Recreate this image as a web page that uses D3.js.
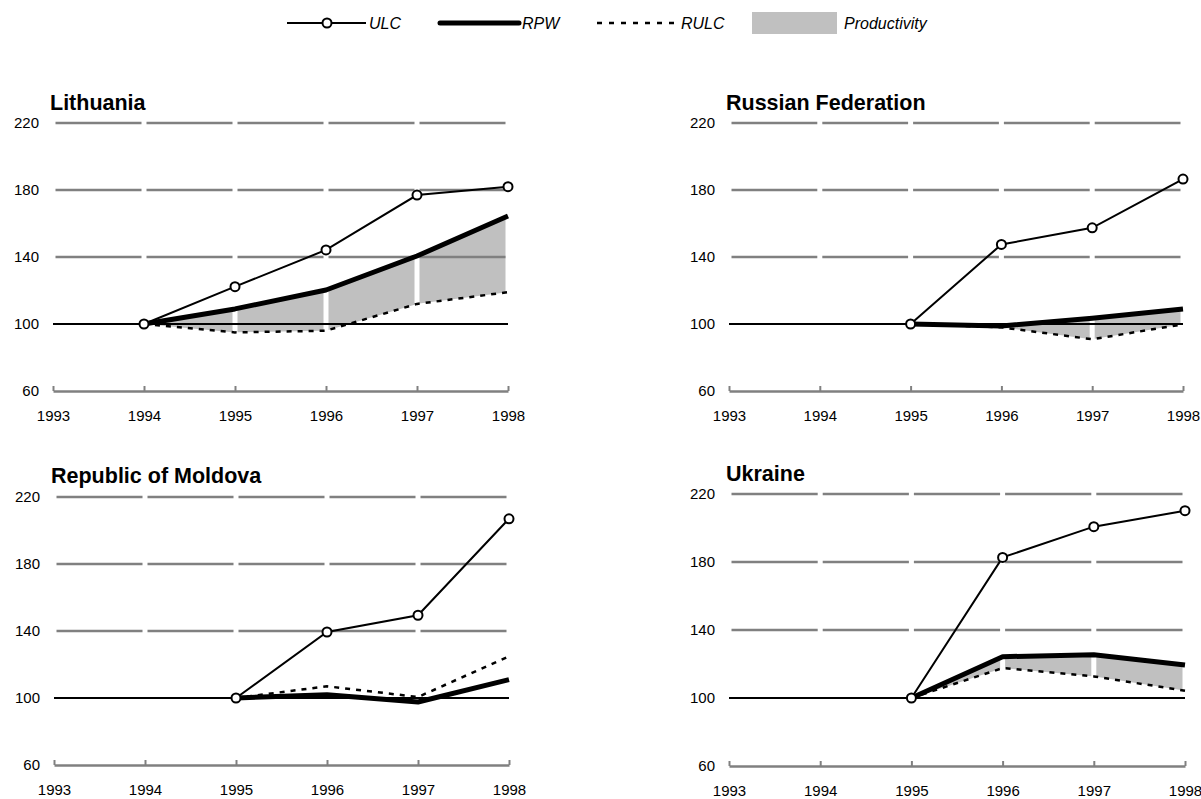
<!DOCTYPE html>
<html>
<head>
<meta charset="utf-8">
<script src="https://cdn.jsdelivr.net/npm/d3@7"></script>
<style>
  body { margin: 0; background: #fff; }
  svg { display: block; font-family: "Liberation Sans", Arial, sans-serif; }
</style>
</head>
<body>
<svg width="1201" height="799"></svg>
<script>
// years on the x axis and tick values on the y axis
const years = [1993, 1994, 1995, 1996, 1997, 1998];
const yTicks = [60, 100, 140, 180, 220];
const gridValues = [140, 180, 220];

const countries = ["Lithuania", "Russian Federation", "Republic of Moldova", "Ukraine"];

// index values (null = no data)
const ulcLithuania = [null, 100, 122.3, 144.2, 177, 182];
const rpwLithuania = [null, 100, 109, 120.3, 140.6, 164.5];
const rulcLithuania = [null, 100, 95, 96, 112, 119];

const ulcRussia = [null, null, 100, 147.5, 157.4, 186.5];
const rpwRussia = [null, null, 100, 98.8, 103.4, 108.9];
const rulcRussia = [null, null, 100, 98, 90.9, 99.8];

const ulcMoldova = [null, null, 100, 139.4, 149.4, 207];
const rpwMoldova = [null, null, 100, 102, 97.6, 111];
const rulcMoldova = [null, null, 100, 107, 100.6, 124.9];

const ulcUkraine = [null, null, 100, 182.7, 200.8, 210.2];
const rpwUkraine = [null, null, 100, 124.3, 125.5, 119.4];
const rulcUkraine = [null, null, 100, 117.6, 112.7, 104.3];

const legendLabels = ["ULC", "RPW", "RULC", "Productivity"];

// panel boxes (pixel frame of each small chart)
const panels = [
  {name: countries[0], ulc: ulcLithuania, rpw: rpwLithuania, rulc: rulcLithuania, x0: 53, x1: 508, yTop: 123, yBot: 391, titleY: 110},
  {name: countries[1], ulc: ulcRussia, rpw: rpwRussia, rulc: rulcRussia, x0: 729, x1: 1183, yTop: 123, yBot: 391, titleY: 110},
  {name: countries[2], ulc: ulcMoldova, rpw: rpwMoldova, rulc: rulcMoldova, x0: 54, x1: 509, yTop: 497, yBot: 765, titleY: 483},
  {name: countries[3], ulc: ulcUkraine, rpw: rpwUkraine, rulc: rulcUkraine, x0: 729, x1: 1185, yTop: 494, yBot: 766, titleY: 481}
];

const svg = d3.select("svg");
const grey = "#808080";
const fillGrey = "#c0c0c0";
const gap = 2.5;

panels.forEach(p => {
  const x = d3.scaleLinear().domain([1993, 1998]).range([p.x0, p.x1]);
  const y = d3.scaleLinear().domain([60, 220]).range([p.yBot, p.yTop]);
  const g = svg.append("g");

  const rows = years.map((yr, i) => ({year: yr, ulc: p.ulc[i], rpw: p.rpw[i], rulc: p.rulc[i]}));

  // productivity fill, one piece per year interval with a white gap at each year
  const pieces = d3.pairs(rows).filter(([a, b]) => a.rpw != null && b.rpw != null);
  const area = d3.area()
    .x(d => x(d.year))
    .y0(d => y(d.rulc))
    .y1(d => y(Math.max(d.rpw, d.rulc)));
  pieces.forEach(([a, b]) => {
    const t0 = gap / (x(b.year) - x(a.year));
    const lerp = t => ({
      year: a.year + (b.year - a.year) * t,
      rpw: a.rpw + (b.rpw - a.rpw) * t,
      rulc: a.rulc + (b.rulc - a.rulc) * t
    });
    g.append("path")
      .datum([lerp(t0), lerp(1 - t0)])
      .attr("fill", fillGrey)
      .attr("d", area);
  });

  // dashed-looking gridlines: a segment per year interval
  gridValues.forEach(v => {
    g.append("g").selectAll("line")
      .data(d3.pairs(years))
      .join("line")
      .attr("x1", d => x(d[0]) + gap)
      .attr("x2", d => x(d[1]) - gap)
      .attr("y1", y(v)).attr("y2", y(v))
      .attr("stroke", grey)
      .attr("stroke-width", 2.5);
  });

  // bottom axis
  const xAxis = g.append("g")
    .attr("transform", `translate(0,${p.yBot})`)
    .call(d3.axisBottom(x).tickValues(years).tickFormat(d3.format("d"))
      .tickSize(-5).tickSizeOuter(0).tickPadding(19));
  xAxis.select(".domain").attr("stroke", grey).attr("stroke-width", 2.5);
  xAxis.selectAll(".tick line").attr("stroke", grey).attr("stroke-width", 2);
  xAxis.selectAll("text").attr("font-size", 15).attr("fill", "#000")
    .attr("font-family", "Liberation Sans, Arial, sans-serif");

  // left labels
  const yAxis = g.append("g")
    .attr("transform", `translate(${p.x0},0)`)
    .call(d3.axisLeft(y).tickValues(yTicks).tickSize(0).tickPadding(14));
  yAxis.select(".domain").remove();
  yAxis.selectAll("text").attr("font-size", 15).attr("fill", "#000")
    .attr("font-family", "Liberation Sans, Arial, sans-serif");

  // 100 base line
  g.append("line")
    .attr("x1", x(1993)).attr("x2", x(1998))
    .attr("y1", y(100)).attr("y2", y(100))
    .attr("stroke", "#000").attr("stroke-width", 2);

  const line = key => d3.line()
    .defined(d => d[key] != null)
    .x(d => x(d.year))
    .y(d => y(d[key]));

  g.append("path").datum(rows)
    .attr("fill", "none").attr("stroke", "#000")
    .attr("stroke-width", 2.5).attr("stroke-dasharray", "5,6")
    .attr("d", line("rulc"));

  g.append("path").datum(rows)
    .attr("fill", "none").attr("stroke", "#000")
    .attr("stroke-width", 5).attr("stroke-linejoin", "round")
    .attr("d", line("rpw"));

  g.append("path").datum(rows)
    .attr("fill", "none").attr("stroke", "#000")
    .attr("stroke-width", 2)
    .attr("d", line("ulc"));

  g.append("g").selectAll("circle")
    .data(rows.filter(d => d.ulc != null))
    .join("circle")
    .attr("cx", d => x(d.year))
    .attr("cy", d => y(d.ulc))
    .attr("r", 4.5)
    .attr("fill", "#fff")
    .attr("stroke", "#000")
    .attr("stroke-width", 2);

  g.append("text")
    .attr("x", p.x0 - 3)
    .attr("y", p.titleY)
    .attr("font-size", 21.5)
    .attr("font-weight", "bold")
    .text(p.name);
});

// legend
const lg = svg.append("g");
const legY = 23;
lg.append("line").attr("x1", 287).attr("x2", 366).attr("y1", legY).attr("y2", legY)
  .attr("stroke", "#000").attr("stroke-width", 2);
lg.append("circle").attr("cx", 327).attr("cy", legY).attr("r", 4.5)
  .attr("fill", "#fff").attr("stroke", "#000").attr("stroke-width", 2);
lg.append("line").attr("x1", 440).attr("x2", 519).attr("y1", legY).attr("y2", legY)
  .attr("stroke", "#000").attr("stroke-width", 5).attr("stroke-linecap", "round");
lg.append("line").attr("x1", 597).attr("x2", 678).attr("y1", legY).attr("y2", legY)
  .attr("stroke", "#000").attr("stroke-width", 2.5).attr("stroke-dasharray", "5,7");
lg.append("rect").attr("x", 752).attr("y", 12).attr("width", 85).attr("height", 22)
  .attr("fill", fillGrey);

lg.selectAll("text")
  .data(legendLabels)
  .join("text")
  .attr("x", (d, i) => [369, 522, 681, 844][i])
  .attr("y", legY + 6)
  .attr("font-size", 16)
  .attr("font-style", "italic")
  .text(d => d);
</script>
</body>
</html>
